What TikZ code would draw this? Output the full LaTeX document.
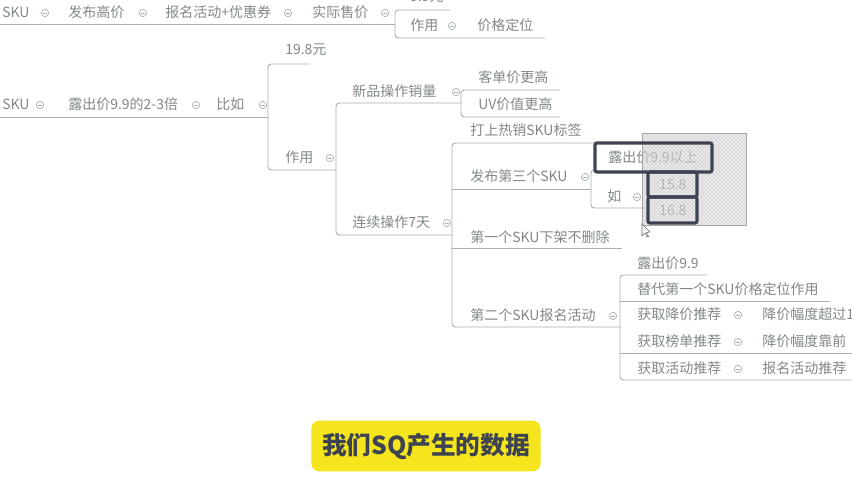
\documentclass[tikz,border=0pt]{standalone}
\usepackage{fontspec}
\newfontfamily\cjk{Noto Sans CJK SC}
\usepackage{tikz}
\usetikzlibrary{patterns}
\usetikzlibrary{calc}
\usetikzlibrary{positioning}

\definecolor{linegray}{HTML}{A7AFAF}
\definecolor{txtgray}{HTML}{808888}
\definecolor{hldark}{HTML}{3D4352}
\definecolor{capyellow}{HTML}{F5E51C}

\tikzset{
  txt/.style={anchor=west, inner sep=0pt, text=txtgray, font=\cjk\fontsize{10.5pt}{12pt}\selectfont},
  branch/.style={draw=linegray, line width=0.7pt, rounded corners=2.5pt},
  foldmark/.style={circle, draw=linegray, line width=0.5pt, minimum size=5.5pt, inner sep=0pt,
    path picture={\draw[linegray, line width=0.45pt] ([xshift=-1.5pt]path picture bounding box.center) -- ([xshift=1.5pt]path picture bounding box.center);}},
  hlbox/.style={draw=hldark, line width=2.4pt, rounded corners=1.5pt},
  caption/.style={fill=capyellow, rounded corners=6pt, minimum width=172pt, minimum height=38pt,
    text=hldark, font=\cjk\bfseries\fontsize{18.5pt}{22pt}\selectfont}
}

\begin{document}
\begin{tikzpicture}[x=0.75pt, y=-0.75pt]
      \path[use as bounding box] (0, 0) rectangle (852, 480);
      \clip (0, 0) rectangle (852, 480);

      \draw[branch] (0, 24) -- (395, 24);
      \draw[branch] (450, 10) -- (395, 10) -- (395, 38) -- (545, 38);
      \node[txt] (skuA) at (2, 12) {SKU};
      \node[foldmark] (fA1) at (45, 13) {};
      \node[txt] (gaojia) at (68, 12) {发布高价};
      \node[foldmark] (fA2) at (143, 13) {};
      \node[txt] (baoming) at (165, 12) {报名活动+优惠券};
      \node[foldmark] (fA3) at (288, 13) {};
      \node[txt] (shoujia) at (312, 12) {实际售价};
      \node[foldmark] (fA4) at (385, 13) {};
      \node[txt] (yuanA) at (410, -3) {9.9元};
      \node[txt] (zuoyongA) at (410, 25) {作用};
      \node[foldmark] (fA5) at (452, 26) {};
      \node[txt] (dingwei) at (477, 25) {价格定位};

      \draw[branch] (0, 117) -- (268, 117);
      \draw[branch] (310, 64) -- (268, 64) -- (268, 170) -- (336, 170);
      \draw[branch] (461, 103) -- (336, 103) -- (336, 235) -- (452, 235);
      \draw[branch] (560, 90) -- (461, 90) -- (461, 117) -- (560, 117);
      \node[txt] (skuB) at (2, 104) {SKU};
      \node[foldmark] (fB1) at (40, 105) {};
      \node[txt] (lujia) at (68, 104) {露出价9.9的2-3倍};
      \node[foldmark] (fB2) at (196, 105) {};
      \node[txt] (biru) at (216, 104) {比如};
      \node[foldmark] (fB3) at (263, 105) {};
      \node[txt] (yuanB) at (285, 50) {19.8元};
      \node[txt] (zuoyongB) at (285, 157) {作用};
      \node[foldmark] (fB4) at (330, 158) {};
      \node[txt] (xinpin) at (352, 91) {新品操作销量};
      \node[foldmark] (fB5) at (456, 92) {};
      \node[txt] (kedan) at (478, 77) {客单价更高};
      \node[txt] (uv) at (478, 104) {UV价值更高};
      \node[txt] (lianxu) at (352, 222) {连续操作7天};
      \node[foldmark] (fB6) at (447, 223) {};

      \draw[branch] (597, 143) -- (452, 143) -- (452, 327) -- (620, 327);
      \draw[branch] (452, 189) -- (591, 189);
      \draw[branch] (452, 248) -- (622, 248);
      \draw[branch] (712, 170) -- (591, 170) -- (591, 208) -- (645, 208);
      \node[txt] (rexiao) at (470, 130) {打上热销SKU标签};
      \node[txt] (disan) at (470, 176) {发布第三个SKU};
      \node[foldmark] (fC1) at (585, 177) {};
      \node[txt] (ru) at (607, 196) {如};
      \node[foldmark] (fC2) at (637, 197) {};
      \node[txt] (diyi) at (470, 237) {第一个SKU下架不删除};
      \node[txt] (dier) at (470, 315) {第二个SKU报名活动};
      \node[foldmark] (fC3) at (613, 316) {};

      \draw[branch] (707, 275) -- (620, 275) -- (620, 380) -- (852, 380);
      \draw[branch] (620, 301) -- (830, 301);
      \draw[branch] (620, 353) -- (852, 353);
      \node[txt] (lujiaB) at (637, 263) {露出价9.9};
      \node[txt] (tidai) at (637, 289) {替代第一个SKU价格定位作用};
      \node[txt] (jiangjia) at (637, 314) {获取降价推荐};
      \node[foldmark] (fD1) at (738, 315) {};
      \node[txt] (chaoguo) at (762, 314) {降价幅度超过1};
      \node[txt] (bangdan) at (637, 341) {获取榜单推荐};
      \node[foldmark] (fD2) at (738, 342) {};
      \node[txt] (kaoqian) at (762, 341) {降价幅度靠前};
      \node[txt] (huodong) at (637, 368) {获取活动推荐};
      \node[foldmark] (fD3) at (738, 369) {};
      \node[txt] (baomingB) at (762, 368) {报名活动推荐};

      \fill[white] (595, 143) rectangle (712, 172);
      \fill[white] (648, 172) rectangle (697, 223);
      \node[txt] (lujiaC) at (608, 157) {露出价9.9以上};
      \node[txt] (p158) at (659, 184) {15.8};
      \node[txt] (p168) at (659, 210) {16.8};
      \fill[black!14, fill opacity=0.6] (642, 133) rectangle (746, 225);
      \fill[pattern=crosshatch dots, pattern color=black!35] (642, 133) rectangle (746, 225);
      \draw[black!35, line width=0.6pt] (642, 133) rectangle (746, 225);
      \draw[hlbox] (595, 143) rectangle (712, 172);
      \draw[hlbox] (648, 172) rectangle (697, 197);
      \draw[hlbox] (648, 197) rectangle (697, 223);
      \filldraw[fill=white, draw=black!60, line width=0.4pt] (642, 224) -- (642, 236) -- (645, 233)
        -- (647, 237) -- (648.5, 236.5) -- (646.5, 232.5) -- (650, 232) -- cycle;

      \node[caption] (cap) at (426, 446) {我们SQ产生的数据};
\end{tikzpicture}
\end{document}
